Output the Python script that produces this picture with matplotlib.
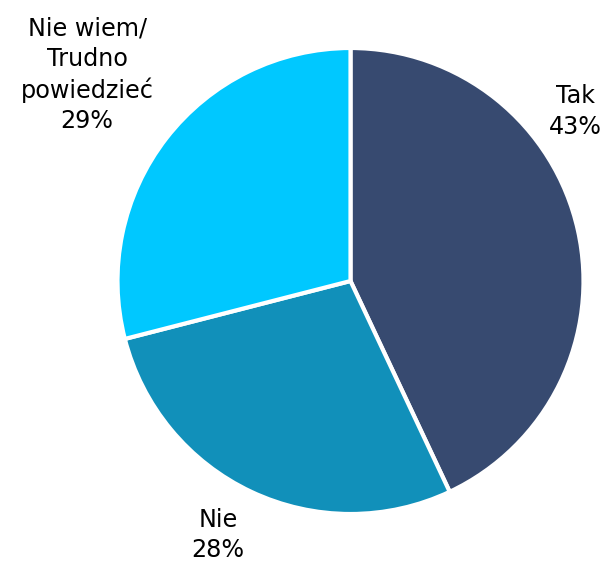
import matplotlib
matplotlib.use("Agg")
import matplotlib.pyplot as plt

categories = ["Tak", "Nie", "Nie wiem/\nTrudno\npowiedzieć"]
values = [43, 28, 29]
colors = ["#374A70", "#1190BA", "#00C8FF"]

W, H = 609, 562
fig = plt.figure(figsize=(W / 100, H / 100), dpi=100)
cx, cy, r = 350.5, 281, 233
ax = fig.add_axes([(cx - r) / W, (H - cy - r) / H, 2 * r / W, 2 * r / H])

wedges, _ = ax.pie(values, colors=colors, startangle=90, counterclock=False,
                   radius=1, wedgeprops=dict(edgecolor="white", linewidth=3))
ax.set_xlim(-1, 1)
ax.set_ylim(-1, 1)

label_pos = [(0.965, 0.727), (-0.569, -1.09), (-1.13, 0.885)]
for name, val, (x, y) in zip(categories, values, label_pos):
    ax.text(x, y, f"{name}\n{val}%", ha="center", va="center", fontsize=17.2,
            linespacing=1.33, color="#000000", family="DejaVu Sans", clip_on=False)

fig.savefig("out.png", dpi=100)
